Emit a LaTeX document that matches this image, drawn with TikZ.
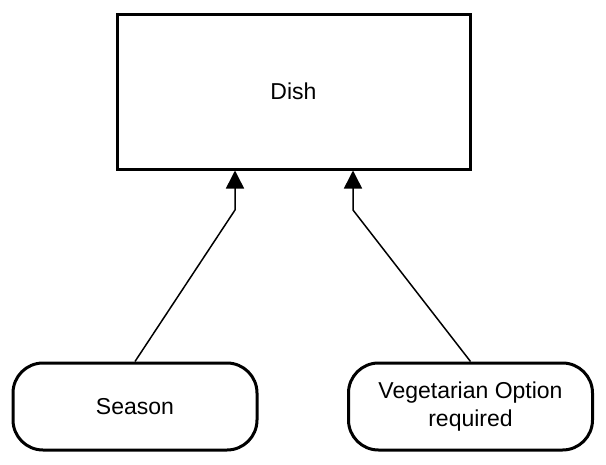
\documentclass[tikz,border=0pt]{standalone}
\usepackage{fontspec}
\setmainfont{Liberation Sans}
\usetikzlibrary{arrows.meta}
\begin{document}
\begin{tikzpicture}[x=1pt,y=-1pt,
  entitybox/.style={draw=black, line width=3pt, fill=white, inner sep=0pt,
    font=\fontsize{23}{28}\selectfont, align=center},
  roundbox/.style={entitybox, rounded corners=30pt},
  conn/.style={draw=black, line width=1.5pt,
    -{Triangle[width=18pt,length=18pt]}}]
\useasboundingbox[fill=white] (0,0) rectangle (606,464);
\node[entitybox, minimum width=353pt, minimum height=155pt] (dish) at (293.5,91.5) {Dish};
\node[roundbox, minimum width=244pt, minimum height=87pt] (season) at (135,406.5) {Season};
\node[roundbox, minimum width=244pt, minimum height=87pt] (veg) at (470.5,406.5) {Vegetarian Option\\required};
\coordinate (b1) at (235,210);
\coordinate (b2) at (353,210);
\draw[conn] (season.north) -- (b1) -- (b1 |- dish.south);
\draw[conn] (veg.north) -- (b2) -- (b2 |- dish.south);
\end{tikzpicture}
\end{document}
